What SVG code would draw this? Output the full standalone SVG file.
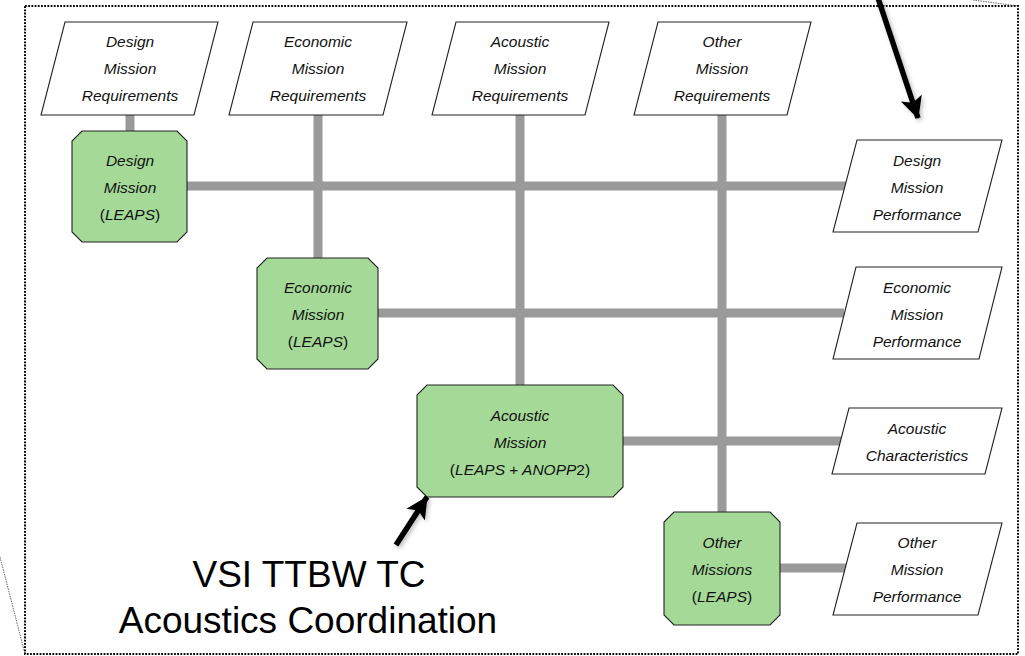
<svg xmlns="http://www.w3.org/2000/svg" width="1025" height="656" viewBox="0 0 1025 656">
  <style>
    .frame { fill: none; stroke: #000; stroke-width: 2; stroke-dasharray: 1.8 1.4; }
    .callout { fill: none; stroke: #666; stroke-width: 1; stroke-dasharray: 1.5 1; }
    .link { stroke: #9a9a9a; stroke-width: 9; fill: none; }
    .io { fill: #fff; stroke: #222; stroke-width: 1.1; }
    .proc { fill: #a5d998; stroke: #222; stroke-width: 1.1; }
    .lbl { font-family: "Liberation Sans", "DejaVu Sans", sans-serif; font-style: italic; font-size: 15.5px; fill: #111; text-anchor: middle; }
    .up { font-style: normal; }
    .big { font-family: "Liberation Sans", Arial, sans-serif; font-size: 37px; fill: #000; text-anchor: middle; }
    .pointer { stroke: #000; stroke-width: 5.5; fill: none; marker-end: url(#head); }
  </style>
  <defs>
    <marker id="head" markerUnits="userSpaceOnUse" markerWidth="26" markerHeight="24" refX="21" refY="11" orient="auto">
      <path d="M0,0 L22,11 L0,22 L5,11 Z" fill="#000"/>
    </marker>
    <filter id="soft" x="-30%" y="-30%" width="160%" height="160%">
      <feDropShadow dx="2" dy="2" stdDeviation="2" flood-color="#000" flood-opacity="0.25"/>
    </filter>
  </defs>

  <!-- outer dotted frame and callout leaders -->
  <rect class="frame" x="25" y="6" width="993" height="648"/>
  <line class="callout" x1="0" y1="557" x2="25" y2="654"/>
  <line class="callout" x1="973" y1="0" x2="1018" y2="6"/>

  <!-- connectors -->
  <g id="connectors">
    <line class="link" x1="130" y1="115" x2="130" y2="131"/>
    <line class="link" x1="318" y1="115" x2="318" y2="258"/>
    <line class="link" x1="520" y1="115" x2="520" y2="385"/>
    <line class="link" x1="722" y1="115" x2="722" y2="512"/>
    <line class="link" x1="187" y1="186" x2="846" y2="186"/>
    <line class="link" x1="378" y1="313" x2="844" y2="313"/>
    <line class="link" x1="623" y1="441" x2="841" y2="441"/>
    <line class="link" x1="780" y1="568" x2="846" y2="568"/>
  </g>

  <!-- requirement inputs -->
  <g id="req-design">
    <polygon class="io" points="65,22 218,22 194,115 41,115"/>
    <text class="lbl" x="130" y="47">Design</text>
    <text class="lbl" x="130" y="74">Mission</text>
    <text class="lbl" x="130" y="101">Requirements</text>
  </g>
  <g id="req-economic">
    <polygon class="io" points="253,22 407,22 383,115 229,115"/>
    <text class="lbl" x="318" y="47">Economic</text>
    <text class="lbl" x="318" y="74">Mission</text>
    <text class="lbl" x="318" y="101">Requirements</text>
  </g>
  <g id="req-acoustic">
    <polygon class="io" points="456,22 609,22 585,115 432,115"/>
    <text class="lbl" x="520" y="47">Acoustic</text>
    <text class="lbl" x="520" y="74">Mission</text>
    <text class="lbl" x="520" y="101">Requirements</text>
  </g>
  <g id="req-other">
    <polygon class="io" points="658,22 811,22 787,115 634,115"/>
    <text class="lbl" x="722" y="47">Other</text>
    <text class="lbl" x="722" y="74">Mission</text>
    <text class="lbl" x="722" y="101">Requirements</text>
  </g>

  <!-- mission analyses -->
  <g id="mission-design">
    <polygon class="proc" points="82,131 177,131 187,141 187,232 177,242 82,242 72,232 72,141"/>
    <text class="lbl" x="130" y="166">Design</text>
    <text class="lbl" x="130" y="193">Mission</text>
    <text class="lbl" x="130" y="220"><tspan class="up">(</tspan>LEAPS<tspan class="up">)</tspan></text>
  </g>
  <g id="mission-economic">
    <polygon class="proc" points="267,258 368,258 378,268 378,359 368,369 267,369 257,359 257,268"/>
    <text class="lbl" x="318" y="293">Economic</text>
    <text class="lbl" x="318" y="320">Mission</text>
    <text class="lbl" x="318" y="347"><tspan class="up">(</tspan>LEAPS<tspan class="up">)</tspan></text>
  </g>
  <g id="mission-acoustic">
    <polygon class="proc" points="427,385 613,385 623,395 623,487 613,497 427,497 417,487 417,395"/>
    <text class="lbl" x="520" y="421">Acoustic</text>
    <text class="lbl" x="520" y="448">Mission</text>
    <text class="lbl" x="520" y="475"><tspan class="up">(</tspan>LEAPS <tspan class="up">+</tspan> ANOPP<tspan class="up">2)</tspan></text>
  </g>
  <g id="mission-other">
    <polygon class="proc" points="674,512 770,512 780,522 780,615 770,625 674,625 664,615 664,522"/>
    <text class="lbl" x="722" y="548">Other</text>
    <text class="lbl" x="722" y="575">Missions</text>
    <text class="lbl" x="722" y="602"><tspan class="up">(</tspan>LEAPS<tspan class="up">)</tspan></text>
  </g>

  <!-- outputs -->
  <g id="out-design">
    <polygon class="io" points="857,140 1002,140 978,232 833,232"/>
    <text class="lbl" x="917" y="166">Design</text>
    <text class="lbl" x="917" y="193">Mission</text>
    <text class="lbl" x="917" y="220">Performance</text>
  </g>
  <g id="out-economic">
    <polygon class="io" points="856,267 1002,267 979,359 833,359"/>
    <text class="lbl" x="917" y="293">Economic</text>
    <text class="lbl" x="917" y="320">Mission</text>
    <text class="lbl" x="917" y="347">Performance</text>
  </g>
  <g id="out-acoustic">
    <polygon class="io" points="849,408 1002,408 985,474 832,474"/>
    <text class="lbl" x="917" y="434">Acoustic</text>
    <text class="lbl" x="917" y="461">Characteristics</text>
  </g>
  <g id="out-other">
    <polygon class="io" points="857,523 1002,523 978,615 833,615"/>
    <text class="lbl" x="917" y="548">Other</text>
    <text class="lbl" x="917" y="575">Mission</text>
    <text class="lbl" x="917" y="602">Performance</text>
  </g>

  <!-- pointers -->
  <g id="pointers" filter="url(#soft)">
    <line class="pointer" x1="878" y1="-2" x2="918" y2="118"/>
    <line class="pointer" x1="396" y1="545" x2="427" y2="497"/>
  </g>

  <g id="caption">
    <text class="big" x="309" y="587">VSI TTBW TC</text>
    <text class="big" x="308" y="633">Acoustics Coordination</text>
  </g>
</svg>
